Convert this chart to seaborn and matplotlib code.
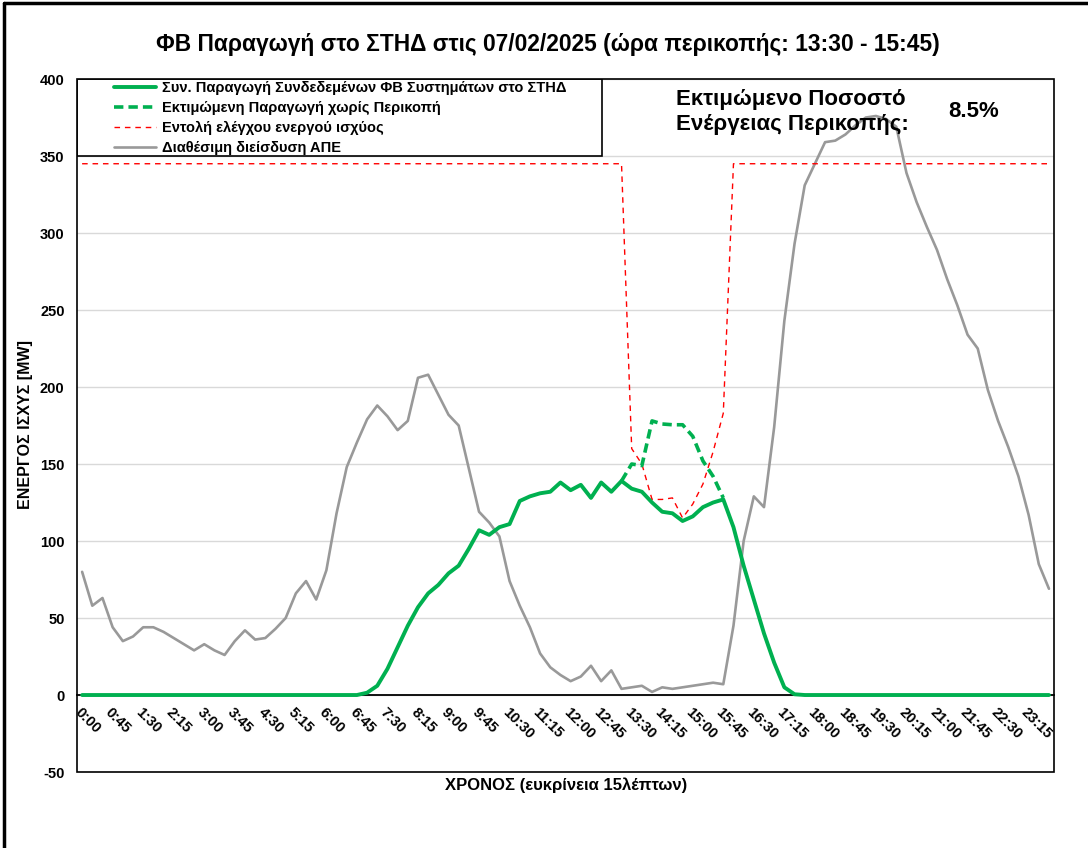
import numpy as np
import pandas as pd
import matplotlib
matplotlib.use("Agg")
import matplotlib.pyplot as plt
from matplotlib.patches import Rectangle
from matplotlib.lines import Line2D
import seaborn as sns

sns.set_theme(style="white")
plt.rcParams["font.family"] = ["Liberation Sans", "DejaVu Sans"]
plt.rcParams["axes.unicode_minus"] = False
for key in ["text.color", "axes.labelcolor", "xtick.color", "ytick.color"]:
    plt.rcParams[key] = "black"

# 15-minute slots of the day
times = [f"{h}:{m:02d}" for h in range(24) for m in (0, 15, 30, 45)]

# actual PV production (MW)
pv_actual = [0] * 28 + [
    1.5, 6, 17, 31, 45, 57, 66, 71.5, 79, 84,
    95, 107, 104, 109, 111, 126, 129, 131, 132, 138,
    133, 136.5, 128, 138, 132, 139, 134, 132, 125, 119,
    118, 113, 116, 122, 125, 127, 109, 84, 62, 40,
    21, 5, 0.5,
] + [0] * 25

# estimated production without curtailment
pv_estimated = [np.nan] * 53 + [
    139, 150, 149, 178, 176, 175.5, 175.5, 168, 152, 142, 128,
] + [np.nan] * 32

# active power control command
control_cmd = [345] * 54 + [160, 150, 127, 127, 128, 115, 124, 137, 158, 183] + [345] * 32

# available RES penetration
res_available = [
    80, 58, 63, 44, 35, 38, 44, 44, 41, 37, 33, 29, 33, 29, 26, 35, 42, 36, 37, 43, 50, 66, 74, 62,
    81, 118, 148, 164, 179, 188, 181, 172, 178, 206, 208, 195, 182, 175, 147, 119, 112, 103,
    74, 58, 44, 27, 18, 13, 9, 12, 19, 9, 16,
    4, 5, 6, 2, 5, 4, 5, 6, 7, 8, 7,
    45, 100, 129, 122, 174, 243, 293, 331, 345, 359, 360, 364, 370, 375, 376, 374,
    369, 339, 320, 304, 289, 270, 253, 234, 225, 198, 178, 161, 142, 117, 85, 69,
]

labels = [
    "Συν. Παραγωγή Συνδεδεμένων ΦΒ Συστημάτων στο ΣΤΗΔ",
    "Εκτιμώμενη Παραγωγή χωρίς Περικοπή",
    "Εντολή ελέγχου ενεργού ισχύος",
    "Διαθέσιμη διείσδυση ΑΠΕ",
]

df = pd.DataFrame({
    "slot": range(len(times)),
    "time": times,
    "actual": pv_actual,
    "estimated": pv_estimated,
    "command": control_cmd,
    "available": res_available,
})

fig = plt.figure(figsize=(10.88, 8.48), dpi=100)
ax = fig.add_axes([0.0708, 0.0896, 0.8980, 0.8172])

sns.lineplot(data=df, x="slot", y="available", color="#999999", lw=1.9,
             label=labels[3], ax=ax, zorder=2)
sns.lineplot(data=df, x="slot", y="command", color="#FF0000", lw=1.0,
             linestyle=(0, (4, 3.5)), label=labels[2], ax=ax, zorder=3)
sns.lineplot(data=df, x="slot", y="estimated", color="#00B050", lw=2.6,
             linestyle=(0, (2.6, 1.4)), label=labels[1], ax=ax, zorder=4)
sns.lineplot(data=df, x="slot", y="actual", color="#00B050", lw=2.8,
             label=labels[0], ax=ax, zorder=5)

ax.set_xlim(-0.5, 95.5)
ax.set_ylim(-50, 400)

# axes cosmetics
ax.spines["bottom"].set_position(("data", 0))
ax.spines["bottom"].set_linewidth(1.3)
ax.spines["bottom"].set_color("black")
for s in ["left", "right", "top"]:
    ax.spines[s].set_visible(False)
ax.add_patch(Rectangle((0, 0), 1, 1, transform=ax.transAxes, fill=False,
                       ec="black", lw=1.2, zorder=8, clip_on=False))

ax.set_yticks(range(-50, 401, 50))
ax.tick_params(axis="y", length=0, pad=9, labelsize=10.5)
for lbl in ax.get_yticklabels():
    lbl.set_fontweight("bold")

ax.set_xticks(df["slot"][::3])
ax.set_xticklabels(df["time"][::3], rotation=-45, ha="left", va="top",
                   rotation_mode="anchor", fontsize=10.5, fontweight="bold")
ax.tick_params(axis="x", length=0, pad=7)

ax.yaxis.grid(True, color="#D9D9D9", lw=1)
ax.xaxis.grid(False)
ax.set_axisbelow(True)
ax.set_xlabel("")
ax.set_ylabel("")

# legend in a box at top-left
ax.add_patch(Rectangle((0, 0.889), 0.537, 0.111, transform=ax.transAxes,
                       fc="white", ec="black", lw=1.2, zorder=6))
handles, labs = ax.get_legend_handles_labels()
order = [labs.index(l) for l in labels]
leg = ax.legend([handles[i] for i in order], [labs[i] for i in order],
                loc="upper left", bbox_to_anchor=(0.038, 0.997), frameon=False,
                prop=dict(weight="bold", size=10.5), handlelength=2.9,
                handletextpad=0.4, labelspacing=0.4, borderpad=0, borderaxespad=0)
leg.set_zorder(7)

ax.text(0.613, 0.985, "Εκτιμώμενο Ποσοστό\nΕνέργειας Περικοπής:", transform=ax.transAxes,
        ha="left", va="top", fontsize=16, fontweight="bold", linespacing=1.25, zorder=9)
ax.text(0.8915, 0.953, "8.5%", transform=ax.transAxes, ha="left", va="center",
        fontsize=16, fontweight="bold", zorder=9)

fig.text(0.504, 0.947, "ΦΒ Παραγωγή στο ΣΤΗΔ στις 07/02/2025 (ώρα περικοπής: 13:30 - 15:45)",
         ha="center", va="center", fontsize=16.4, fontweight="bold")
fig.text(0.52, 0.0743, "ΧΡΟΝΟΣ (ευκρίνεια 15λέπτων)", ha="center", va="center",
         fontsize=12, fontweight="bold")
fig.text(0.023, 0.499, "ΕΝΕΡΓΟΣ ΙΣΧΥΣ [MW]", ha="center", va="center", rotation=90,
         fontsize=11.5, fontweight="bold")

# outer chart border (left and top visible)
fig.add_artist(Line2D([0.004, 0.004], [0, 0.9965], color="black", lw=2.5,
                      transform=fig.transFigure))
fig.add_artist(Line2D([0.004, 1], [0.9965, 0.9965], color="black", lw=2.5,
                      transform=fig.transFigure))

fig.savefig("out.png", dpi=100)
